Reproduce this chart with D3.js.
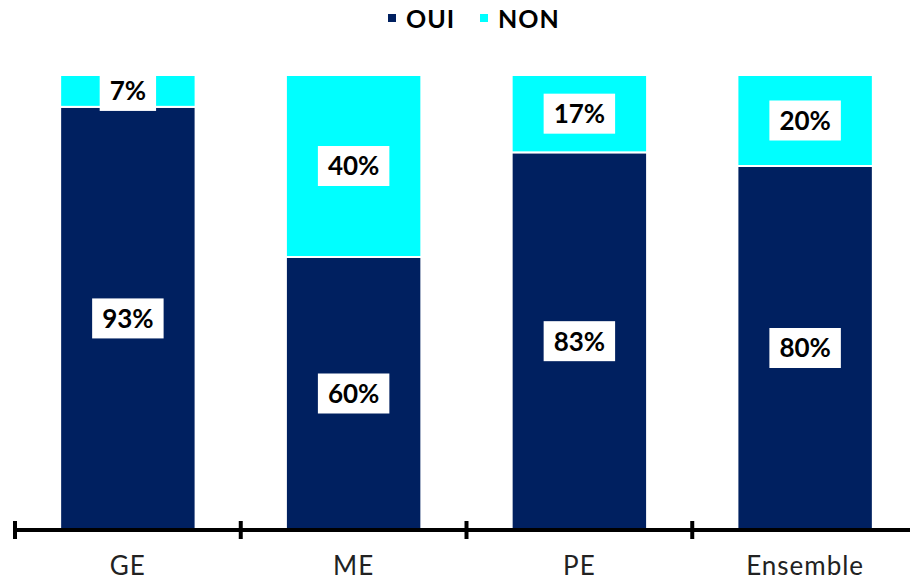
<!DOCTYPE html>
<html>
<head>
<meta charset="utf-8">
<script src="https://cdn.jsdelivr.net/npm/d3@7"></script>
<style>
  body { margin: 0; background: #fff; }
  text { font-family: 'Lato', 'Noto Sans', sans-serif; }
</style>
</head>
<body>
<div id="chart"></div>
<script>
const categories = ['GE', 'ME', 'PE', 'Ensemble']
const oui = [93, 60, 83, 80]
const non = [7, 40, 17, 20]
const seriesNames = ['OUI', 'NON']

const colors = { OUI: '#002060', NON: '#00FFFF' }

const width = 910
const height = 580

const svg = d3
  .select('#chart')
  .append('svg')
  .attr('width', width)
  .attr('height', height)

const xPositionScale = d3
  .scaleBand()
  .domain(categories)
  .range([15, 918])
  .paddingInner(0.4)
  .paddingOuter(0.2)

const yPositionScale = d3
  .scaleLinear()
  .domain([0, 100])
  .range([530, 75])

const rows = categories.map((c, i) => ({ cat: c, OUI: oui[i], NON: non[i] }))
const stacked = d3.stack().keys(seriesNames)(rows)

// bars
svg
  .selectAll('g.series')
  .data(stacked)
  .enter()
  .append('g')
  .attr('class', 'series')
  .attr('fill', d => colors[d.key])
  .selectAll('rect')
  .data(d => d)
  .enter()
  .append('rect')
  .attr('x', d => xPositionScale(d.data.cat))
  .attr('width', xPositionScale.bandwidth())
  .attr('y', d => yPositionScale(d[1]))
  .attr('height', d => yPositionScale(d[0]) - yPositionScale(d[1]))
  .attr('stroke', '#fff')
  .attr('stroke-width', 2)

// labels with white boxes
const labels = []
stacked.forEach(s => {
  s.forEach(d => {
    labels.push({
      cat: d.data.cat,
      value: d[1] - d[0],
      mid: (d[0] + d[1]) / 2
    })
  })
})

const lab = svg
  .selectAll('g.label')
  .data(labels)
  .enter()
  .append('g')
  .attr('class', 'label')
  .attr('transform', d => {
    const x = xPositionScale(d.cat) + xPositionScale.bandwidth() / 2
    return 'translate(' + x + ',' + yPositionScale(d.mid) + ')'
  })

lab
  .append('text')
  .attr('text-anchor', 'middle')
  .attr('dy', '0.36em')
  .attr('font-size', 26)
  .attr('font-weight', 'bold')
  .attr('fill', '#000')
  .text(d => d.value + '%')

lab.each(function() {
  const g = d3.select(this)
  const bb = g.select('text').node().getBBox()
  g.insert('rect', 'text')
    .attr('x', bb.x - 10)
    .attr('y', -20)
    .attr('width', bb.width + 20)
    .attr('height', 40)
    .attr('fill', '#fff')
})

// axis
const axis = svg.append('g').attr('class', 'axis')
axis
  .append('line')
  .attr('x1', 15)
  .attr('x2', 918)
  .attr('y1', 530)
  .attr('y2', 530)
  .attr('stroke', '#000')
  .attr('stroke-width', 4)

const tickXs = categories.map(c => xPositionScale(c) - xPositionScale.step() * xPositionScale.paddingOuter())
tickXs.push(918)
axis
  .selectAll('line.tick')
  .data(tickXs)
  .enter()
  .append('line')
  .attr('class', 'tick')
  .attr('x1', d => d)
  .attr('x2', d => d)
  .attr('y1', 521)
  .attr('y2', 539)
  .attr('stroke', '#000')
  .attr('stroke-width', 4)

axis
  .selectAll('text')
  .data(categories)
  .enter()
  .append('text')
  .attr('x', d => xPositionScale(d) + xPositionScale.bandwidth() / 2)
  .attr('y', 575)
  .attr('text-anchor', 'middle')
  .attr('font-size', 26)
  .attr('letter-spacing', 1)
  .attr('fill', '#222')
  .text(d => d)

// legend
const legendX = { OUI: 388, NON: 480 }
const legend = svg
  .selectAll('g.legend')
  .data(seriesNames)
  .enter()
  .append('g')
  .attr('class', 'legend')
  .attr('transform', d => 'translate(' + legendX[d] + ',19)')

legend
  .append('rect')
  .attr('x', 0)
  .attr('y', -5)
  .attr('width', 8)
  .attr('height', 8)
  .attr('fill', d => colors[d])

legend
  .append('text')
  .attr('x', 18)
  .attr('dy', '0.36em')
  .attr('font-size', 25)
  .attr('font-weight', 'bold')
  .attr('letter-spacing', 1)
  .attr('fill', '#000')
  .text(d => d)
</script>
</body>
</html>
